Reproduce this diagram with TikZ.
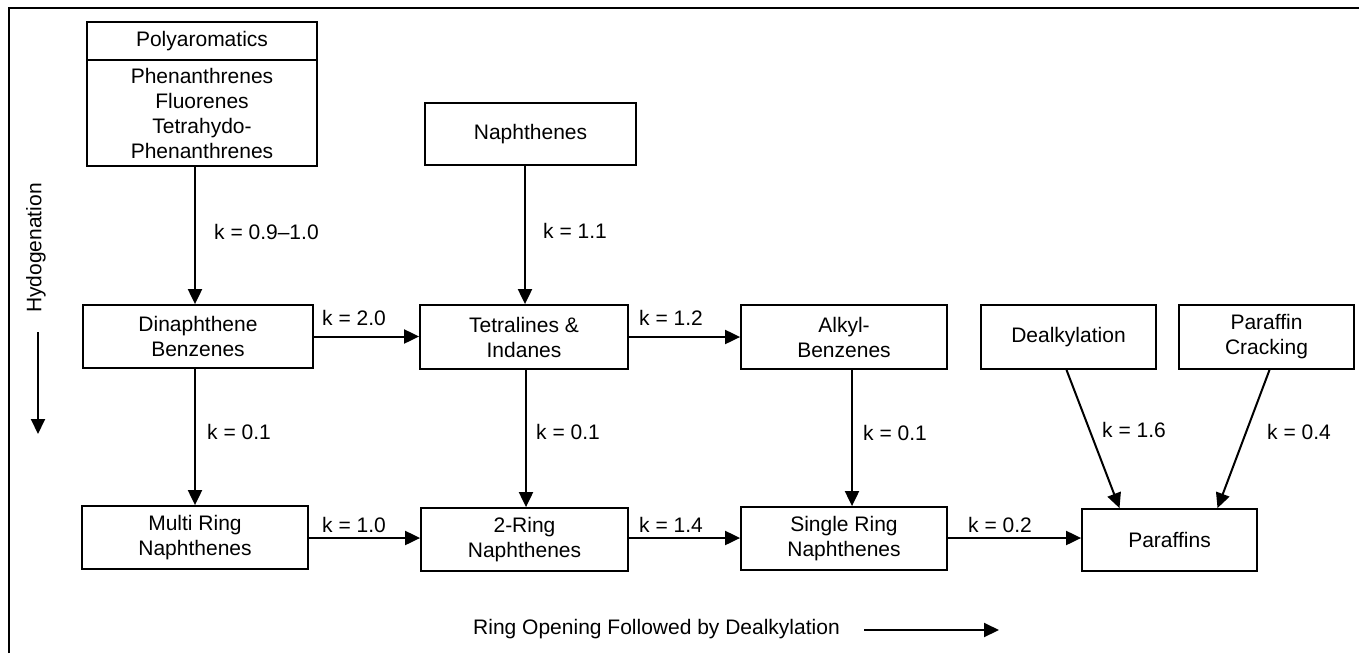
\documentclass[tikz,border=0pt]{standalone}
\usepackage{fontspec}
\setmainfont{Liberation Sans}
\usetikzlibrary{arrows.meta}
\begin{document}
\begin{tikzpicture}[x=1pt,y=-1pt,
  every node/.style={font=\fontsize{21}{25}\selectfont, inner sep=0pt},
  box/.style={draw, line width=1.8pt, align=center},
  arr/.style={line width=2pt, -{Triangle[length=15pt,width=14pt]}},
  klabel/.style={anchor=west}]
\useasboundingbox (0,0) rectangle (1359,653);
% frame
\draw[line width=2.2pt] (9,653) -- (9,8) -- (1359,8);

% boxes
\node[box, minimum width=230pt, minimum height=38pt] (polyh) at (202,41) {Polyaromatics};
\node[box, minimum width=230pt, minimum height=106pt] (polyb) at (202,113)
  {Phenanthrenes\\Fluorenes\\Tetrahydo-\\Phenanthrenes};
\node[box, minimum width=211pt, minimum height=62pt] (naph) at (530.5,134) {Naphthenes};

\node[box, minimum width=230pt, minimum height=63pt] (dina) at (198,336.5) {Dinaphthene\\Benzenes};
\node[box, minimum width=208pt, minimum height=64pt] (tet) at (524,337) {Tetralines \&\\Indanes};
\node[box, minimum width=206pt, minimum height=64pt] (alkyl) at (844,337) {Alkyl-\\Benzenes};
\node[box, minimum width=175pt, minimum height=64pt] (deal) at (1068.5,337) {Dealkylation};
\node[box, minimum width=175pt, minimum height=64pt] (crack) at (1266.5,337) {Paraffin\\Cracking};

\node[box, minimum width=226pt, minimum height=63pt] (multi) at (195,537.5) {Multi Ring\\Naphthenes};
\node[box, minimum width=207pt, minimum height=63pt] (ring2) at (524.5,539.5) {2-Ring\\Naphthenes};
\node[box, minimum width=206pt, minimum height=63pt] (single) at (844,538.5) {Single Ring\\Naphthenes};
\node[box, minimum width=175pt, minimum height=62pt] (par) at (1169.5,540) {Paraffins};

% vertical connectors
\draw[arr] ([xshift=-3pt]dina.north |- polyb.south) -- ([xshift=-3pt]dina.north);
\draw[arr] ([xshift=1pt]tet.north |- naph.south) -- ([xshift=1pt]tet.north);
\draw[arr] (multi.north |- dina.south) -- (multi.north);
\draw[arr] ([xshift=1.5pt]ring2.north |- tet.south) -- ([xshift=1.5pt]ring2.north);
\draw[arr] ([xshift=8pt]alkyl.south) -- ([xshift=8pt]single.north);
\draw[arr] ([xshift=-2pt]deal.south) -- ([xshift=-50pt]par.north);
\draw[arr] ([xshift=3pt]crack.south) -- ([xshift=48pt]par.north);

% horizontal connectors
\draw[arr] (dina.east) -- (dina.east -| tet.west);
\draw[arr] (tet.east) -- (tet.east -| alkyl.west);
\draw[arr] (multi.east |- 0,538) -- (ring2.west |- 0,538);
\draw[arr] (ring2.east |- 0,538) -- (single.west |- 0,538);
\draw[arr] (single.east |- 0,538) -- (par.west |- 0,538);

% rate constants
\node[klabel] (k1) at (214,232) {k = 0.9–1.0};
\node[klabel] (k2) at (543,231) {k = 1.1};
\node[klabel] (k3) at (322,318) {k = 2.0};
\node[klabel] (k4) at (639,318) {k = 1.2};
\node[klabel] (k5) at (207,432) {k = 0.1};
\node[klabel] (k6) at (536,432) {k = 0.1};
\node[klabel] (k7) at (863,433) {k = 0.1};
\node[klabel] (k8) at (1102,430) {k = 1.6};
\node[klabel] (k9) at (1267,432) {k = 0.4};
\node[klabel] (k10) at (322,525) {k = 1.0};
\node[klabel] (k11) at (639,525) {k = 1.4};
\node[klabel] (k12) at (968,525) {k = 0.2};

% axis captions
\node[rotate=90] (hyd) at (36,248) {Hydogenation};
\coordinate (h1) at (38,332);
\coordinate (h2) at (38,434);
\draw[arr] (h1) -- (h2);

\node (ro) at (656.5,629) {Ring Opening Followed by Dealkylation};
\coordinate (r1) at (864,630);
\coordinate (r2) at (999,630);
\draw[arr] (r1) -- (r2);
\end{tikzpicture}
\end{document}
